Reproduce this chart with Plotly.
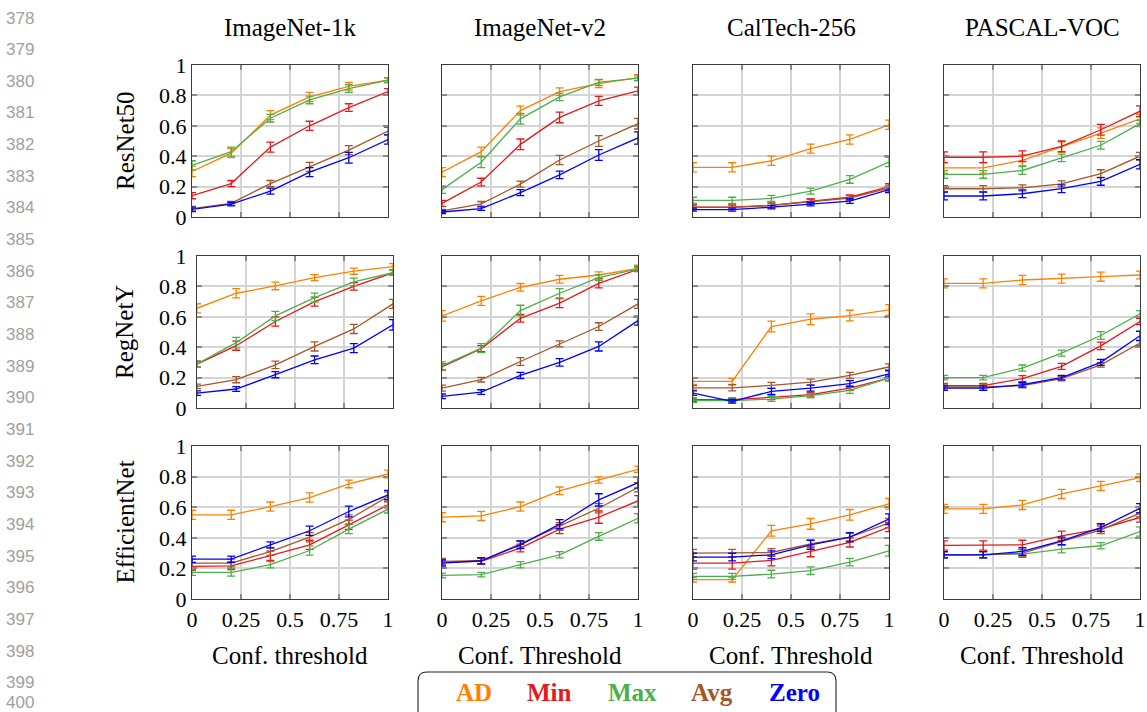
import plotly.graph_objects as go

W, H = 1147, 712

# ---------------- data ----------------
X = [0, 0.2, 0.4, 0.6, 0.8, 1.0]
SERIES = ["AD", "Min", "Max", "Avg", "Zero"]
COLORS = {"AD": "#FF8000", "Min": "#E41A1C", "Max": "#4DAF4A", "Avg": "#A65628", "Zero": "#0000FF"}

DATASETS = ["ImageNet-1k", "ImageNet-v2", "CalTech-256", "PASCAL-VOC"]
MODELS = ["ResNet50", "RegNetY", "EfficientNet"]
XTITLES = ["Conf. threshold", "Conf. Threshold", "Conf. Threshold", "Conf. Threshold"]
XTICKS = [0, 0.25, 0.5, 0.75, 1]
XTICKTEXT = ["0", "0.25", "0.5", "0.75", "1"]
YTICKS = [0, 0.2, 0.4, 0.6, 0.8, 1]
YTICKTEXT = ["0", "0.2", "0.4", "0.6", "0.8", "1"]

# ResNet50
R50_IN1K = {"AD": [0.30, 0.42, 0.67, 0.79, 0.86, 0.90],
            "Min": [0.14, 0.22, 0.46, 0.60, 0.72, 0.825],
            "Max": [0.34, 0.43, 0.65, 0.77, 0.845, 0.90],
            "Avg": [0.055, 0.09, 0.22, 0.33, 0.44, 0.565],
            "Zero": [0.05, 0.085, 0.17, 0.295, 0.39, 0.51]}
R50_IN1K_ERR = {"AD": [0.035, 0.03, 0.03, 0.03, 0.025, 0.015],
                "Min": [0.02, 0.02, 0.033, 0.03, 0.025, 0.02],
                "Max": [0.03, 0.03, 0.025, 0.025, 0.025, 0.015],
                "Avg": [0.015, 0.012, 0.02, 0.03, 0.03, 0.025],
                "Zero": [0.015, 0.012, 0.02, 0.03, 0.035, 0.03]}
R50_INV2 = {"AD": [0.295, 0.43, 0.70, 0.825, 0.877, 0.917],
            "Min": [0.09, 0.23, 0.478, 0.655, 0.764, 0.83],
            "Max": [0.18, 0.36, 0.646, 0.79, 0.886, 0.913],
            "Avg": [0.04, 0.087, 0.216, 0.375, 0.50, 0.614],
            "Zero": [0.033, 0.055, 0.16, 0.277, 0.408, 0.52]}
R50_INV2_ERR = {"AD": [0.03, 0.03, 0.03, 0.025, 0.025, 0.02],
                "Min": [0.02, 0.025, 0.035, 0.035, 0.03, 0.025],
                "Max": [0.025, 0.035, 0.035, 0.025, 0.02, 0.015],
                "Avg": [0.01, 0.015, 0.02, 0.03, 0.035, 0.035],
                "Zero": [0.01, 0.012, 0.02, 0.025, 0.035, 0.04]}
R50_CAL = {"AD": [0.327, 0.327, 0.37, 0.45, 0.51, 0.607],
           "Min": [0.065, 0.065, 0.076, 0.105, 0.13, 0.20],
           "Max": [0.11, 0.11, 0.122, 0.17, 0.247, 0.362],
           "Avg": [0.063, 0.063, 0.076, 0.10, 0.125, 0.19],
           "Zero": [0.048, 0.048, 0.065, 0.085, 0.105, 0.18]}
R50_CAL_ERR = {"AD": [0.03, 0.03, 0.03, 0.03, 0.03, 0.03],
               "Min": [0.015, 0.015, 0.015, 0.015, 0.015, 0.02],
               "Max": [0.02, 0.02, 0.02, 0.02, 0.025, 0.03],
               "Avg": [0.015, 0.015, 0.015, 0.015, 0.015, 0.02],
               "Zero": [0.01, 0.01, 0.012, 0.012, 0.015, 0.02]}
R50_VOC = {"AD": [0.323, 0.323, 0.373, 0.46, 0.552, 0.646],
           "Min": [0.393, 0.393, 0.40, 0.465, 0.574, 0.696],
           "Max": [0.28, 0.28, 0.306, 0.389, 0.472, 0.614],
           "Avg": [0.186, 0.186, 0.192, 0.218, 0.286, 0.40],
           "Zero": [0.138, 0.138, 0.153, 0.186, 0.234, 0.347]}
R50_VOC_ERR = {"AD": [0.035, 0.035, 0.035, 0.035, 0.035, 0.03],
               "Min": [0.035, 0.035, 0.035, 0.035, 0.035, 0.035],
               "Max": [0.025, 0.025, 0.025, 0.025, 0.025, 0.02],
               "Avg": [0.02, 0.02, 0.02, 0.02, 0.025, 0.025],
               "Zero": [0.025, 0.025, 0.025, 0.025, 0.025, 0.03]}

# RegNetY
RGY_IN1K = {"AD": [0.656, 0.755, 0.803, 0.858, 0.90, 0.93],
            "Min": [0.289, 0.41, 0.569, 0.70, 0.80, 0.89],
            "Max": [0.29, 0.43, 0.606, 0.726, 0.83, 0.89],
            "Avg": [0.142, 0.186, 0.284, 0.405, 0.52, 0.685],
            "Zero": [0.098, 0.125, 0.219, 0.317, 0.394, 0.547]}
RGY_IN1K_ERR = {"AD": [0.03, 0.03, 0.025, 0.02, 0.02, 0.02],
                "Min": [0.02, 0.03, 0.03, 0.03, 0.025, 0.015],
                "Max": [0.02, 0.035, 0.03, 0.03, 0.025, 0.015],
                "Avg": [0.015, 0.02, 0.025, 0.03, 0.03, 0.03],
                "Zero": [0.015, 0.015, 0.02, 0.025, 0.03, 0.035]}
RGY_INV2 = {"AD": [0.606, 0.705, 0.794, 0.847, 0.875, 0.919],
            "Min": [0.27, 0.39, 0.59, 0.69, 0.82, 0.912],
            "Max": [0.278, 0.394, 0.641, 0.755, 0.858, 0.915],
            "Avg": [0.131, 0.186, 0.306, 0.422, 0.536, 0.685],
            "Zero": [0.077, 0.105, 0.214, 0.30, 0.405, 0.575]}
RGY_INV2_ERR = {"AD": [0.035, 0.03, 0.025, 0.025, 0.02, 0.02],
                "Min": [0.02, 0.02, 0.025, 0.03, 0.03, 0.015],
                "Max": [0.025, 0.03, 0.035, 0.03, 0.02, 0.015],
                "Avg": [0.02, 0.015, 0.025, 0.02, 0.025, 0.03],
                "Zero": [0.015, 0.015, 0.02, 0.025, 0.03, 0.03]}
RGY_CAL = {"AD": [0.175, 0.175, 0.536, 0.584, 0.608, 0.645],
           "Min": [0.055, 0.055, 0.07, 0.088, 0.131, 0.197],
           "Max": [0.048, 0.048, 0.059, 0.081, 0.116, 0.197],
           "Avg": [0.133, 0.133, 0.149, 0.17, 0.214, 0.27],
           "Zero": [0.098, 0.044, 0.109, 0.131, 0.16, 0.225]}
RGY_CAL_ERR = {"AD": [0.02, 0.02, 0.035, 0.035, 0.035, 0.035],
               "Min": [0.012, 0.012, 0.015, 0.015, 0.015, 0.02],
               "Max": [0.012, 0.012, 0.015, 0.015, 0.02, 0.02],
               "Avg": [0.015, 0.02, 0.02, 0.02, 0.02, 0.02],
               "Zero": [0.015, 0.012, 0.02, 0.02, 0.02, 0.02]}
RGY_VOC = {"AD": [0.82, 0.82, 0.842, 0.851, 0.864, 0.875],
           "Min": [0.147, 0.147, 0.193, 0.274, 0.409, 0.569],
           "Max": [0.20, 0.20, 0.263, 0.361, 0.477, 0.62],
           "Avg": [0.138, 0.138, 0.147, 0.193, 0.284, 0.427],
           "Zero": [0.131, 0.131, 0.153, 0.20, 0.30, 0.475]}
RGY_VOC_ERR = {"AD": [0.03, 0.03, 0.03, 0.03, 0.03, 0.025],
               "Min": [0.015, 0.015, 0.02, 0.02, 0.025, 0.02],
               "Max": [0.015, 0.015, 0.02, 0.02, 0.025, 0.02],
               "Avg": [0.02, 0.02, 0.015, 0.015, 0.015, 0.015],
               "Zero": [0.015, 0.015, 0.015, 0.015, 0.02, 0.03]}

# EfficientNet
EFF_IN1K = {"AD": [0.55, 0.55, 0.604, 0.663, 0.752, 0.817],
            "Min": [0.213, 0.217, 0.283, 0.354, 0.485, 0.615],
            "Max": [0.174, 0.174, 0.224, 0.317, 0.457, 0.587],
            "Avg": [0.235, 0.235, 0.31, 0.404, 0.52, 0.67],
            "Zero": [0.26, 0.26, 0.354, 0.446, 0.572, 0.68]}
EFF_IN1K_ERR = {"AD": [0.03, 0.03, 0.03, 0.03, 0.025, 0.025],
                "Min": [0.025, 0.025, 0.03, 0.03, 0.03, 0.02],
                "Max": [0.02, 0.025, 0.02, 0.03, 0.03, 0.025],
                "Avg": [0.025, 0.025, 0.025, 0.03, 0.03, 0.03],
                "Zero": [0.02, 0.02, 0.02, 0.03, 0.035, 0.03]}
EFF_INV2 = {"AD": [0.535, 0.543, 0.604, 0.707, 0.778, 0.848],
            "Min": [0.241, 0.246, 0.333, 0.457, 0.535, 0.641],
            "Max": [0.154, 0.159, 0.224, 0.289, 0.409, 0.528],
            "Avg": [0.246, 0.25, 0.36, 0.474, 0.593, 0.73],
            "Zero": [0.235, 0.25, 0.354, 0.489, 0.648, 0.76]}
EFF_INV2_ERR = {"AD": [0.03, 0.03, 0.03, 0.025, 0.02, 0.02],
                "Min": [0.02, 0.02, 0.025, 0.03, 0.04, 0.035],
                "Max": [0.015, 0.015, 0.02, 0.02, 0.025, 0.03],
                "Avg": [0.02, 0.02, 0.02, 0.025, 0.03, 0.03],
                "Zero": [0.02, 0.02, 0.025, 0.03, 0.04, 0.035]}
EFF_CAL = {"AD": [0.126, 0.126, 0.446, 0.491, 0.55, 0.622],
           "Min": [0.235, 0.235, 0.252, 0.311, 0.37, 0.47],
           "Max": [0.148, 0.148, 0.163, 0.185, 0.241, 0.315],
           "Avg": [0.30, 0.30, 0.304, 0.36, 0.404, 0.496],
           "Zero": [0.274, 0.274, 0.289, 0.354, 0.404, 0.522]}
EFF_CAL_ERR = {"AD": [0.015, 0.015, 0.035, 0.035, 0.035, 0.035],
               "Min": [0.04, 0.04, 0.035, 0.035, 0.03, 0.03],
               "Max": [0.02, 0.02, 0.025, 0.025, 0.025, 0.035],
               "Avg": [0.025, 0.025, 0.025, 0.025, 0.025, 0.03],
               "Zero": [0.025, 0.025, 0.025, 0.03, 0.03, 0.035]}
EFF_VOC = {"AD": [0.589, 0.589, 0.615, 0.687, 0.739, 0.793],
           "Min": [0.35, 0.35, 0.354, 0.413, 0.459, 0.533],
           "Max": [0.289, 0.289, 0.293, 0.326, 0.348, 0.441],
           "Avg": [0.289, 0.289, 0.30, 0.376, 0.452, 0.561],
           "Zero": [0.289, 0.289, 0.311, 0.38, 0.467, 0.593]}
EFF_VOC_ERR = {"AD": [0.03, 0.03, 0.03, 0.03, 0.03, 0.025],
               "Min": [0.03, 0.03, 0.03, 0.03, 0.03, 0.03],
               "Max": [0.02, 0.02, 0.02, 0.025, 0.02, 0.03],
               "Avg": [0.02, 0.02, 0.025, 0.02, 0.025, 0.025],
               "Zero": [0.02, 0.02, 0.025, 0.025, 0.025, 0.03]}

GRID_DATA = [[R50_IN1K, R50_INV2, R50_CAL, R50_VOC],
             [RGY_IN1K, RGY_INV2, RGY_CAL, RGY_VOC],
             [EFF_IN1K, EFF_INV2, EFF_CAL, EFF_VOC]]
GRID_ERR = [[R50_IN1K_ERR, R50_INV2_ERR, R50_CAL_ERR, R50_VOC_ERR],
            [RGY_IN1K_ERR, RGY_INV2_ERR, RGY_CAL_ERR, RGY_VOC_ERR],
            [EFF_IN1K_ERR, EFF_INV2_ERR, EFF_CAL_ERR, EFF_VOC_ERR]]

LINE_NUMBERS = list(range(378, 401))

# ---------------- layout geometry (pixels) ----------------
COL_X = [(192, 388), (442, 638), (693, 889), (944, 1140)]
ROW_Y = [(65, 217), (256, 408), (446, 599)]
SHIFT = {(1, 0): 5}

SERIF = "Liberation Serif, Times New Roman, serif"
FS_TICK = 22
FS_TEXT = 25


def px_x(x):
    return x / W


def px_y(y):
    return 1 - y / H


fig = go.Figure()
layout = {}

for r in range(3):
    for c in range(4):
        idx = r * 4 + c + 1
        sx = SHIFT.get((r, c), 0)
        x0, x1 = COL_X[c]
        y0, y1 = ROW_Y[r]
        xname = "xaxis" if idx == 1 else f"xaxis{idx}"
        yname = "yaxis" if idx == 1 else f"yaxis{idx}"
        xref = "x" if idx == 1 else f"x{idx}"
        yref = "y" if idx == 1 else f"y{idx}"
        common = dict(showgrid=True, gridcolor="#d4d4d4", gridwidth=1.5,
                      showline=True, linecolor="#3a3a3a", linewidth=1.4, mirror="all",
                      ticks="inside", ticklen=5, tickwidth=1.5, tickcolor="#8a8a8a",
                      zeroline=False, fixedrange=True, automargin=False,
                      tickfont=dict(family=SERIF, size=FS_TICK, color="black"))
        layout[xname] = dict(common, domain=[px_x(x0 + sx), px_x(x1 + sx)], anchor=yref,
                             range=[0, 1], tickmode="array", tickvals=XTICKS,
                             ticktext=XTICKTEXT, showticklabels=(r == 2))
        layout[yname] = dict(common, domain=[px_y(y1), px_y(y0)], anchor=xref,
                             range=[0, 1], tickmode="array", tickvals=YTICKS,
                             ticktext=YTICKTEXT, showticklabels=(c == 0),
                             ticklabelstandoff=sx)
        data = GRID_DATA[r][c]
        err = GRID_ERR[r][c]
        for s in SERIES:
            fig.add_trace(go.Scatter(
                x=X, y=data[s], mode="lines", xaxis=xref, yaxis=yref,
                line=dict(color=COLORS[s], width=1.3),
                error_y=dict(type="data", array=err[s], visible=True,
                             color=COLORS[s], thickness=1.3, width=4),
                showlegend=False, hoverinfo="skip"))

annotations = []
# column titles and x-axis titles
for c, name in enumerate(DATASETS):
    cx = (COL_X[c][0] + COL_X[c][1]) / 2
    annotations.append(dict(text=name, x=px_x(cx), y=px_y(28), xref="paper", yref="paper",
                            showarrow=False, xanchor="center", yanchor="middle",
                            font=dict(family=SERIF, size=FS_TEXT, color="black")))
    annotations.append(dict(text=XTITLES[c], x=px_x(cx), y=px_y(655), xref="paper", yref="paper",
                            showarrow=False, xanchor="center", yanchor="middle",
                            font=dict(family=SERIF, size=FS_TEXT, color="black")))
# row labels
for r, name in enumerate(MODELS):
    cy = (ROW_Y[r][0] + ROW_Y[r][1]) / 2
    annotations.append(dict(text=name, x=px_x(125), y=px_y(cy), xref="paper", yref="paper",
                            showarrow=False, xanchor="center", yanchor="middle", textangle=-90,
                            font=dict(family=SERIF, size=FS_TEXT, color="black")))
# line numbers (the last one is kept inside the picture)
for i, n in enumerate(LINE_NUMBERS):
    ly = min(18 + i * 31.65, 702)
    annotations.append(dict(text=str(n), x=px_x(20), y=px_y(ly), xref="paper",
                            yref="paper", showarrow=False, xanchor="center", yanchor="middle",
                            font=dict(family="Liberation Sans, Arial, sans-serif", size=17,
                                      color="#a0a0a0")))
# legend entries
LEG_X = [474, 549, 632, 712, 794]
for s, lx in zip(SERIES, LEG_X):
    annotations.append(dict(text=f"<b>{s}</b>", x=px_x(lx), y=px_y(692), xref="paper",
                            yref="paper", showarrow=False, xanchor="center", yanchor="middle",
                            font=dict(family=SERIF, size=FS_TEXT, color=COLORS[s])))

# rounded legend box
bx0, bx1, by0, by1, rad = 418, 836, 672, 722, 9


def P(x, y):
    return f"{px_x(x):.5f},{px_y(y):.5f}"


path = (f"M {P(bx0 + rad, by0)} L {P(bx1 - rad, by0)} Q {P(bx1, by0)} {P(bx1, by0 + rad)} "
        f"L {P(bx1, by1 - rad)} Q {P(bx1, by1)} {P(bx1 - rad, by1)} "
        f"L {P(bx0 + rad, by1)} Q {P(bx0, by1)} {P(bx0, by1 - rad)} "
        f"L {P(bx0, by0 + rad)} Q {P(bx0, by0)} {P(bx0 + rad, by0)} Z")
shapes = [dict(type="path", path=path, xref="paper", yref="paper",
               line=dict(color="#222222", width=1.1), fillcolor="rgba(0,0,0,0)")]

fig.update_layout(**layout)
fig.update_layout(width=W, height=H, margin=dict(l=0, r=0, t=0, b=0, autoexpand=False),
                  paper_bgcolor="white", plot_bgcolor="white",
                  annotations=annotations, shapes=shapes, showlegend=False)

fig.write_html("out.html", config={"displayModeBar": False})
